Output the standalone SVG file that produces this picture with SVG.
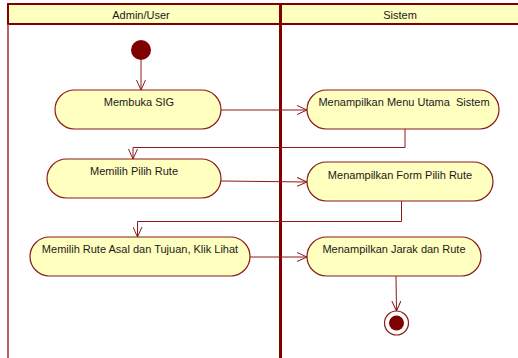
<svg xmlns="http://www.w3.org/2000/svg" width="518" height="358" viewBox="0 0 518 358">
  <style>
    .lane-head { fill: #FFFFC0; stroke: none; }
    .frame { stroke: #800000; fill: none; }
    .action rect { fill: #FFFFC0; stroke: #8B1A1A; stroke-width: 1.2; }
    .label { font-family: "Liberation Sans", Arial, sans-serif; font-size: 11px; fill: #1a1a1a; text-anchor: middle; white-space: pre; }
    .flow { stroke: #8B1A1A; stroke-width: 1; fill: none; marker-end: url(#open); }
  </style>
  <defs>
    <marker id="open" markerWidth="12" markerHeight="10" refX="10" refY="5" orient="auto" markerUnits="userSpaceOnUse">
      <path d="M0,0.5 L10,5 L0,9.5" fill="none" stroke="#8B1A1A" stroke-width="1"/>
    </marker>
  </defs>
  <rect width="518" height="358" fill="#ffffff"/>

  <!-- swimlanes -->
  <g id="lanes">
    <rect class="lane-head" x="8" y="4" width="510" height="20"/>
    <line class="frame" x1="7" y1="4" x2="518" y2="4" stroke-width="2"/>
    <line class="frame" x1="7" y1="24" x2="518" y2="24" stroke-width="2"/>
    <line class="frame" x1="8" y1="4" x2="8" y2="24" stroke-width="2"/>
    <line x1="8" y1="24" x2="8" y2="358" stroke="#A03030" stroke-width="1.5"/>
    <line class="frame" x1="280.5" y1="4" x2="280.5" y2="358" stroke-width="3"/>
    <text class="label" x="141" y="19">Admin/User</text>
    <text class="label" x="400" y="19">Sistem</text>
  </g>

  <!-- connectors -->
  <g id="connectors">
    <line class="flow" x1="141" y1="60" x2="141" y2="90"/>
    <line class="flow" x1="221" y1="110" x2="307" y2="110"/>
    <polyline class="flow" points="405,129 405,147.5 133,147.5 133,159"/>
    <line class="flow" x1="221" y1="181" x2="307" y2="182"/>
    <polyline class="flow" points="401.5,201 401.5,221.5 137.5,221.5 137.5,237"/>
    <line class="flow" x1="250" y1="257" x2="307" y2="257"/>
    <line class="flow" x1="396" y1="276" x2="396.5" y2="311"/>
  </g>

  <!-- start node -->
  <g id="start">
    <circle cx="141" cy="50" r="10" fill="#800000"/>
  </g>

  <g id="membuka-sig" class="action">
    <rect x="55" y="90" width="166" height="39" rx="19.5"/>
    <text class="label" x="139" y="106">Membuka SIG</text>
  </g>

  <g id="menu-utama" class="action">
    <rect x="307" y="90" width="192" height="39" rx="19.5"/>
    <text class="label" x="404" y="106">Menampilkan Menu Utama  Sistem</text>
  </g>

  <g id="pilih-rute" class="action">
    <rect x="47" y="159" width="174" height="39" rx="19.5"/>
    <text class="label" x="134" y="175">Memilih Pilih Rute</text>
  </g>

  <g id="form-pilih-rute" class="action">
    <rect x="307" y="162" width="186" height="39" rx="19.5"/>
    <text class="label" x="400" y="179">Menampilkan Form Pilih Rute</text>
  </g>

  <g id="rute-asal-tujuan" class="action">
    <rect x="30" y="237" width="220" height="39" rx="19.5"/>
    <text class="label" x="140" y="253">Memilih Rute Asal dan Tujuan, Klik Lihat</text>
  </g>

  <g id="jarak-rute" class="action">
    <rect x="307" y="237" width="174" height="39" rx="19.5"/>
    <text class="label" x="394" y="253">Menampilkan Jarak dan Rute</text>
  </g>

  <!-- final node -->
  <g id="end">
    <circle cx="396.5" cy="323" r="12" fill="#ffffff" stroke="#8B1A1A" stroke-width="1.2"/>
    <circle cx="396.5" cy="323" r="7.5" fill="#800000"/>
  </g>
</svg>
